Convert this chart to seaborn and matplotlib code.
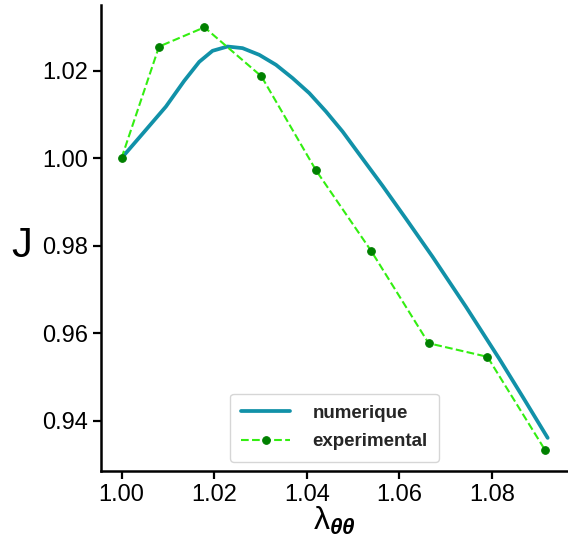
import matplotlib
matplotlib.use('Agg')
import matplotlib.pyplot as plt
import numpy as np
import pandas as pd
import seaborn as sns

# numeric (simulation) curve
num_lam = [1.00000, 1.00490, 1.00959, 1.01354, 1.01678, 1.01965, 1.02289,
           1.02613, 1.02974, 1.03335, 1.03693, 1.04054, 1.04415, 1.04773,
           1.05063, 1.05637, 1.06143, 1.06717, 1.07438, 1.08158, 1.08676,
           1.09201]
num_j = [1.00000, 1.00601, 1.01179, 1.01767, 1.02201, 1.02453, 1.02551,
         1.02514, 1.02361, 1.02133, 1.01829, 1.01486, 1.01065, 1.00608,
         1.00190, 0.99367, 0.98613, 0.97744, 0.96601, 0.95412, 0.94521,
         0.93607]

# experimental points
exp_lam = [1.0000, 1.0081, 1.0179, 1.0302, 1.0420, 1.0539, 1.0663, 1.0790, 1.0915]
exp_j = [1.0000, 1.0255, 1.0299, 1.0187, 0.9972, 0.9788, 0.9577, 0.9546, 0.9332]

sns.set_style('ticks')
plt.rcParams['font.family'] = ['Liberation Sans', 'DejaVu Sans']
plt.rcParams['mathtext.fontset'] = 'custom'
plt.rcParams['mathtext.rm'] = 'Liberation Sans'
plt.rcParams['mathtext.it'] = 'Liberation Sans:italic'
plt.rcParams['mathtext.bf'] = 'Liberation Sans:italic:bold'

fig = plt.figure(figsize=(5.68, 5.39), dpi=100)
ax = fig.add_axes([101 / 568, 68 / 539, 467 / 568, 466 / 539])

sns.lineplot(x=num_lam, y=num_j, ax=ax, sort=False, color='#1191a8',
             linewidth=2.7, label='numerique')
sns.lineplot(x=exp_lam, y=exp_j, ax=ax, sort=False, color='#33ee11',
             linewidth=1.5, linestyle='--', marker='o', markersize=5.5,
             markerfacecolor='green', markeredgecolor='green',
             label='experimental')

ax.set_xlim(0.99557, 1.0964)
ax.set_ylim(0.9285, 1.0350)
ax.set_xticks([1.00, 1.02, 1.04, 1.06, 1.08])
ax.set_yticks([0.94, 0.96, 0.98, 1.00, 1.02])
ax.set_xticklabels(['1.00', '1.02', '1.04', '1.06', '1.08'])
ax.set_yticklabels(['0.94', '0.96', '0.98', '1.00', '1.02'])
ax.tick_params(labelsize=17, length=6, width=1.6, colors='black')
for s in ['left', 'bottom']:
    ax.spines[s].set_linewidth(1.8)
    ax.spines[s].set_color('black')
sns.despine(ax=ax)

ax.set_xlabel('λ$_{\\mathbf{\\theta\\theta}}$', fontsize=23, color='black')
ax.xaxis.set_label_coords(0.5, -0.072)
ax.set_ylabel('J', fontsize=30, rotation=0, color='black')
ax.yaxis.set_label_coords(-0.17, 0.44)

leg = ax.legend(loc='lower center', prop={'weight': 'bold', 'size': 13.5},
                handlelength=2.6, borderpad=0.6, labelspacing=0.6,
                handletextpad=1.2, frameon=True)
leg.get_frame().set_edgecolor('#cccccc')

fig.savefig('out.png', dpi=100)
